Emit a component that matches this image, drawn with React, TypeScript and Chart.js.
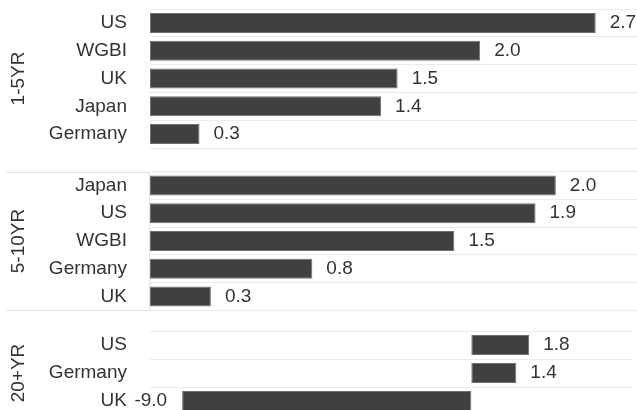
import React, { useEffect, useRef } from "react";
import { Chart, registerables } from "chart.js";

Chart.register(...registerables);

// Duration buckets, each with its own categories and values
const panelTitles = ["1-5YR", "5-10YR", "20+YR"];

const shortLabels = ["US", "WGBI", "UK", "Japan", "Germany"];
const shortValues = [2.7, 2.0, 1.5, 1.4, 0.3];

const midLabels = ["Japan", "US", "WGBI", "Germany", "UK"];
const midValues = [2.0, 1.9, 1.5, 0.8, 0.3];

const longLabels = ["US", "Germany", "UK"];
const longValues = [1.8, 1.4, -9.0];

// Independent value axis range for each bucket
const shortRange = [0, 2.95];
const midRange = [0, 2.4];
const longRange = [-10, 5];

const FONT = "'Liberation Sans', Arial, Helvetica, sans-serif";
const TEXT = "#333333";
const BAR = "#404040";
const RULE = "#ebebeb";

type PanelProps = {
  title: string;
  labels: string[];
  values: number[];
  range: number[];
  top: number;
  height: number;
  padTop: number;
  padBottom: number;
  padRight: number;
  boxed?: boolean;
};

const valueLabels = {
  id: "valueLabels",
  afterDatasetsDraw(chart: any) {
    const ctx = chart.ctx;
    const meta = chart.getDatasetMeta(0);
    const data = chart.data.datasets[0].data as number[];
    ctx.save();
    ctx.font = `19px ${FONT}`;
    ctx.fillStyle = TEXT;
    ctx.textBaseline = "middle";
    meta.data.forEach((el: any, i: number) => {
      const v = data[i];
      const txt = v.toFixed(1);
      if (v >= 0) {
        ctx.textAlign = "left";
        ctx.fillText(txt, el.x + 14, el.y);
      } else {
        ctx.textAlign = "right";
        ctx.fillText(txt, el.x - 15, el.y);
      }
    });
    ctx.restore();
  },
};

const headerBox = {
  id: "headerBox",
  afterDraw(chart: any, _args: any, opts: any) {
    if (!opts || !opts.enabled) return;
    const { ctx, chartArea } = chart;
    ctx.save();
    ctx.strokeStyle = "#e2e2e2";
    ctx.lineWidth = 1;
    ctx.beginPath();
    const t = Math.round(chartArea.top) + 0.5;
    const b = Math.round(chartArea.bottom) - 0.5;
    ctx.moveTo(6, t);
    ctx.lineTo(chartArea.left, t);
    ctx.moveTo(6, b);
    ctx.lineTo(chartArea.left, b);
    ctx.moveTo(chartArea.left - 0.5, t);
    ctx.lineTo(chartArea.left - 0.5, b);
    ctx.stroke();
    ctx.restore();
  },
};

function Panel(props: PanelProps) {
  const ref = useRef<HTMLCanvasElement | null>(null);

  useEffect(() => {
    if (!ref.current) return;
    const chart = new Chart(ref.current, {
      type: "bar",
      data: {
        labels: props.labels,
        datasets: [
          {
            data: props.values,
            backgroundColor: BAR,
            borderColor: "#6f6f6f",
            borderWidth: 1,
            borderSkipped: false,
            barPercentage: 0.72,
            categoryPercentage: 1,
          },
        ],
      },
      options: {
        indexAxis: "y",
        responsive: false,
        animation: false,
        events: [],
        layout: {
          padding: {
            left: 0,
            right: props.padRight,
            top: props.padTop,
            bottom: props.padBottom,
          },
        },
        plugins: {
          legend: { display: false },
          tooltip: { enabled: false },
          headerBox: { enabled: !!props.boxed },
        } as any,
        scales: {
          x: {
            display: false,
            min: props.range[0],
            max: props.range[1],
          },
          y: {
            afterFit: (scale: any) => {
              // fixed header column; no extra vertical room for end labels
              scale.width = 150;
              scale.paddingTop = 0;
              scale.paddingBottom = 0;
            },
            grid: {
              color: RULE,
              lineWidth: 1,
              drawTicks: false,
            },
            border: { display: false },
            ticks: {
              autoSkip: false,
              padding: 23,
              color: TEXT,
              font: { family: FONT, size: 19 },
            },
            title: {
              display: true,
              text: props.title,
              color: TEXT,
              font: { family: FONT, size: 19 },
              padding: { top: 7, bottom: 0 },
            },
          },
        },
      },
      plugins: [valueLabels, headerBox],
    });
    return () => chart.destroy();
  }, []);

  return (
    <canvas
      ref={ref}
      width={637}
      height={props.height}
      style={{
        position: "absolute",
        left: 0,
        top: props.top,
        width: 637,
        height: props.height,
        display: "block",
      }}
    />
  );
}

export default function App() {
  return (
    <div
      style={{
        position: "absolute",
        left: 0,
        top: 0,
        width: 637,
        height: 410,
        overflow: "hidden",
        background: "#ffffff",
      }}
    >
      <Panel
        title={panelTitles[0]}
        labels={shortLabels}
        values={shortValues}
        range={shortRange}
        top={0}
        height={160}
        padTop={9}
        padBottom={12}
        padRight={0}
      />
      <Panel
        title={panelTitles[1]}
        labels={midLabels}
        values={midValues}
        range={midRange}
        top={160}
        height={160}
        padTop={11.5}
        padBottom={9.5}
        padRight={0}
        boxed
      />
      <Panel
        title={panelTitles[2]}
        labels={longLabels}
        values={longValues}
        range={longRange}
        top={320}
        height={100}
        padTop={11}
        padBottom={5}
        padRight={5}
      />
    </div>
  );
}
